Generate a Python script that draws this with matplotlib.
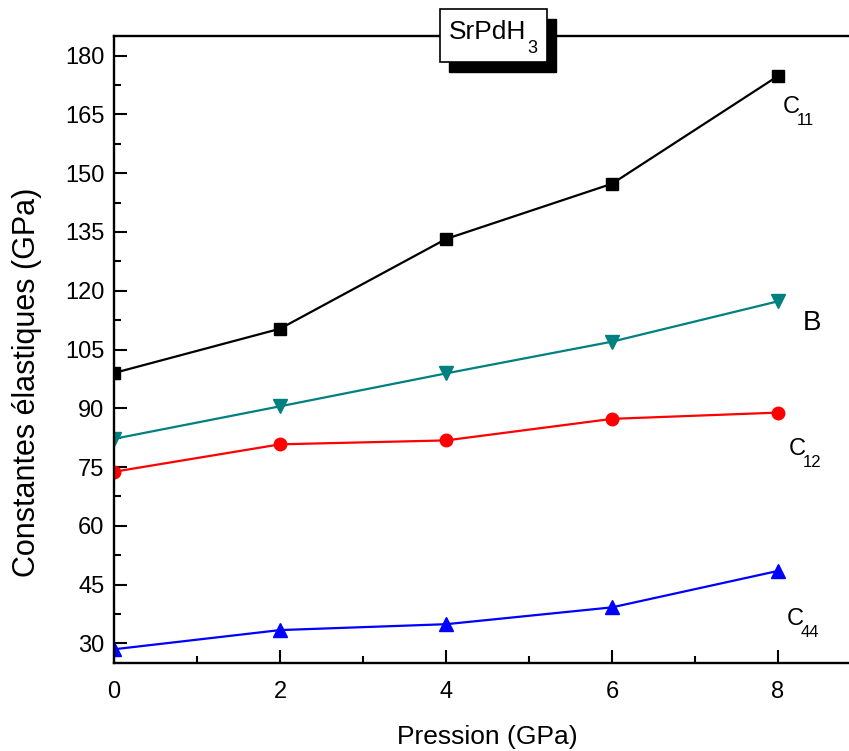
import matplotlib
matplotlib.use("agg")
from matplotlib import pyplot
from matplotlib.patches import Rectangle

pyplot.rcParams["font.family"] = ["Liberation Sans", "DejaVu Sans"]

# pressure (GPa) and elastic constants (GPa) for SrPdH3
pression = [0, 2, 4, 6, 8]
c11 = [99.0, 110.3, 133.2, 147.3, 174.8]
bulk = [82.2, 90.5, 98.9, 107.0, 117.3]
c12 = [73.8, 80.8, 81.8, 87.3, 88.9]
c44 = [28.5, 33.4, 34.9, 39.2, 48.5]

W, H = 849, 751


def px(x, y):
    # pixel position (from top-left) -> figure fraction
    return x / W, 1 - y / H


fig = pyplot.figure(figsize=(W / 100, H / 100), dpi=100)
ax = fig.add_axes([114 / W, 88 / H, (W - 114) / W, 627 / H])

ax.plot(pression, c11, "-s", c="k", lw=1.6, ms=8)
ax.plot(pression, bulk, "-v", c="#008080", lw=1.6, ms=10)
ax.plot(pression, c12, "-o", c="#ff0000", lw=1.6, ms=9)
ax.plot(pression, c44, "-^", c="#0000ff", lw=1.6, ms=10)

ax.set_xlim(0, 8.855)
ax.set_ylim(25, 185)
ax.set_xticks([0, 2, 4, 6, 8])
ax.set_xticks([1, 3, 5, 7], minor=True)
ax.set_yticks(range(30, 181, 15))
ax.set_yticks([30 + 7.5 * i for i in range(21)], minor=True)

ax.spines["right"].set_visible(False)
for s in ["left", "bottom", "top"]:
    ax.spines[s].set_linewidth(1.7)
ax.tick_params(which="both", direction="in", width=1.5, labelsize=17)
ax.tick_params(axis="x", which="major", length=9.5, pad=13)
ax.tick_params(axis="x", which="minor", length=5)
ax.tick_params(axis="y", which="major", length=9, pad=7)
ax.tick_params(axis="y", which="minor", length=5)

fig.text(*px(487, 737), "Pression (GPa)", fontsize=19, ha="center", va="center")
fig.text(*px(27, 382), "Constantes élastiques (GPa)", fontsize=22,
         rotation=90, ha="center", va="center")

# curve labels: main letter + subscript
labels = [("C", "11", 783, 113), ("B", "", 803, 330),
          ("C", "12", 789, 455), ("C", "44", 787, 625)]
for main, sub, x, y in labels:
    size = 20 if main == "B" else 17
    fig.text(*px(x, y), main, fontsize=size, ha="left", va="baseline")
    if sub:
        fig.text(*px(x + 14, y + 12), sub, fontsize=12, ha="left", va="baseline")

# title box with drop shadow
shadow = Rectangle(px(449, 72), 107 / W, 53 / H, transform=fig.transFigure,
                   facecolor="k", edgecolor="k", zorder=5)
box = Rectangle(px(440, 62), 107 / W, 53 / H, transform=fig.transFigure,
                facecolor="white", edgecolor="k", lw=1.2, zorder=6)
fig.patches.extend([shadow, box])
fig.text(*px(449, 39), "SrPdH", fontsize=19, ha="left", va="baseline", zorder=7)
fig.text(*px(527, 53), "3", fontsize=13, ha="left", va="baseline", zorder=7)

fig.savefig("out.png", dpi=100)
